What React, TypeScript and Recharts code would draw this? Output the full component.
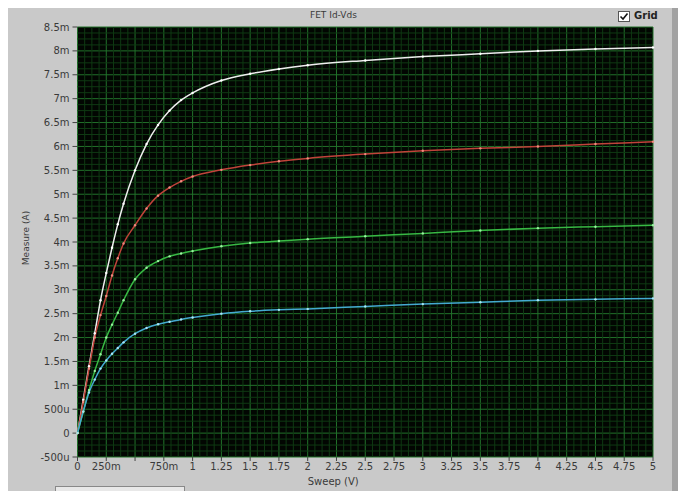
import React from "react";
import {
  LineChart, Line, XAxis, YAxis, CartesianGrid, ReferenceLine, Label,
} from "recharts";

// sweep voltage (V)
const vds = [0, 0.05, 0.1, 0.15, 0.2, 0.25, 0.3, 0.35, 0.4, 0.5, 0.6, 0.7, 0.8, 0.9, 1.0, 1.25, 1.5, 1.75, 2, 2.5, 3, 3.5, 4, 4.5, 5];

// drain current per gate step (mA)
const idWhite = [0, 0.7, 1.4, 2.09, 2.78, 3.35, 3.88, 4.37, 4.8, 5.5, 6.05, 6.45, 6.75, 6.97, 7.12, 7.38, 7.52, 7.62, 7.7, 7.8, 7.88, 7.94, 8.0, 8.04, 8.07];
const idRed = [0, 0.65, 1.35, 2.0, 2.47, 2.87, 3.3, 3.66, 3.97, 4.35, 4.7, 4.97, 5.14, 5.27, 5.37, 5.51, 5.61, 5.69, 5.75, 5.84, 5.91, 5.96, 6.0, 6.05, 6.1];
const idGreen = [0, 0.45, 0.9, 1.3, 1.65, 2.0, 2.27, 2.52, 2.78, 3.22, 3.46, 3.6, 3.7, 3.76, 3.81, 3.91, 3.98, 4.02, 4.06, 4.12, 4.18, 4.24, 4.29, 4.32, 4.35];
const idCyan = [0, 0.45, 0.85, 1.12, 1.35, 1.52, 1.66, 1.78, 1.9, 2.08, 2.2, 2.28, 2.33, 2.38, 2.42, 2.5, 2.55, 2.58, 2.6, 2.65, 2.7, 2.74, 2.78, 2.8, 2.82];

const xTicks = [0, 0.25, 0.5, 0.75, 1, 1.25, 1.5, 1.75, 2, 2.25, 2.5, 2.75, 3, 3.25, 3.5, 3.75, 4, 4.25, 4.5, 4.75, 5];
const yTicks = [-0.5, 0, 0.5, 1, 1.5, 2, 2.5, 3, 3.5, 4, 4.5, 5, 5.5, 6, 6.5, 7, 7.5, 8, 8.5];

const rows = vds.map((v, i) => ({
  v, w: idWhite[i], r: idRed[i], g: idGreen[i], c: idCyan[i],
}));

// minor grid: 4 divisions between major ticks
const minorBetween = (ticks: number[]) => {
  const out: number[] = [];
  for (let i = 0; i < ticks.length - 1; i++) {
    const step = (ticks[i + 1] - ticks[i]) / 4;
    for (let k = 1; k < 4; k++) out.push(ticks[i] + step * k);
  }
  return out;
};
const xMinor = minorBetween(xTicks);
const yMinor = minorBetween(yTicks);

const FONT = "'DejaVu Sans', sans-serif";
const tickStyle = { fill: "#3a3a3a", fontSize: 10, fontFamily: FONT };

const fmtX = (v: number) => {
  if (v === 0) return "0";
  if (v === 0.5) return "";
  if (v < 1) return `${Math.round(v * 1000)}m`;
  return `${v}`;
};
const fmtY = (v: number) => {
  if (v === 0) return "0";
  if (Math.abs(v) < 1) return `${Math.round(v * 1000)}u`;
  return `${v}m`;
};

const series = [
  { key: "w", color: "#eeeeee", dot: "#ffffff" },
  { key: "r", color: "#c0433a", dot: "#f08a80" },
  { key: "g", color: "#38b844", dot: "#9af0a0" },
  { key: "c", color: "#44aad0", dot: "#a8e4f6" },
];

export default function App() {
  return (
    <div style={{ position: "absolute", left: 0, top: 0, width: 683, height: 491, background: "#fff", overflow: "hidden", fontFamily: FONT }}>
      <div style={{ position: "absolute", left: 8, top: 8, width: 664, height: 483, background: "#c9c9c9" }} />
      <div style={{ position: "absolute", left: 672, top: 8, width: 6, height: 483, background: "#a2a2a2" }} />
      <div style={{ position: "absolute", left: 55, top: 486, width: 128, height: 10, background: "#e8e8e8", border: "1px solid #888" }} />

      <div style={{ position: "absolute", left: 0, top: 0 }}>
        <LineChart width={683} height={491} data={rows} margin={{ top: 27, right: 30, bottom: 4, left: 8 }}>
          <CartesianGrid stroke="#22722b" fill="#020602" fillOpacity={1} />
          {xMinor.map((x) => (
            <ReferenceLine key={`vx${x}`} x={x} stroke="#0f3a13" strokeWidth={1} />
          ))}
          {yMinor.map((y) => (
            <ReferenceLine key={`hy${y}`} y={y} stroke="#0f3a13" strokeWidth={1} />
          ))}
          <XAxis
            dataKey="v"
            type="number"
            domain={[0, 5]}
            ticks={xTicks}
            interval={0}
            tickFormatter={fmtX}
            tick={tickStyle}
            tickSize={4}
            tickMargin={2}
            axisLine={false}
            tickLine={{ stroke: "#444" }}
            height={30}
          >
            <Label value="Sweep (V)" position="center" dx={-32} dy={9} style={{ fill: "#3a3a3a", fontSize: 10, fontFamily: FONT }} />
          </XAxis>
          <YAxis
            type="number"
            domain={[-0.5, 8.5]}
            ticks={yTicks}
            interval={0}
            tickFormatter={fmtY}
            tick={tickStyle}
            tickSize={5}
            tickMargin={3}
            axisLine={false}
            tickLine={{ stroke: "#444" }}
            width={69.5}
          >
            <Label value="Measure (A)" position="center" angle={-90} dx={-17} dy={-4} style={{ fill: "#3a3a3a", fontSize: 9, fontFamily: FONT }} />
          </YAxis>
          {series.map((s) => (
            <Line
              key={s.key}
              type="monotone"
              dataKey={s.key}
              stroke={s.color}
              strokeWidth={1.5}
              dot={{ r: 1.2, fill: s.dot, stroke: "none" }}
              isAnimationActive={false}
            />
          ))}
        </LineChart>
      </div>

      <div style={{ position: "absolute", left: 310, top: 10, fontSize: 9, color: "#3a3a3a" }}>FET Id-Vds</div>
      <div style={{ position: "absolute", left: 618, top: 11, width: 10, height: 9, background: "#fff", border: "1px solid #555" }}>
        <svg width={10} height={9} style={{ position: "absolute", left: 0, top: 0 }}>
          <polyline points="1.5,4.5 4,7 8.5,1.5" fill="none" stroke="#111" strokeWidth={1.6} />
        </svg>
      </div>
      <div style={{ position: "absolute", left: 634, top: 10, fontSize: 10, fontWeight: "bold", color: "#222" }}>Grid</div>
    </div>
  );
}
